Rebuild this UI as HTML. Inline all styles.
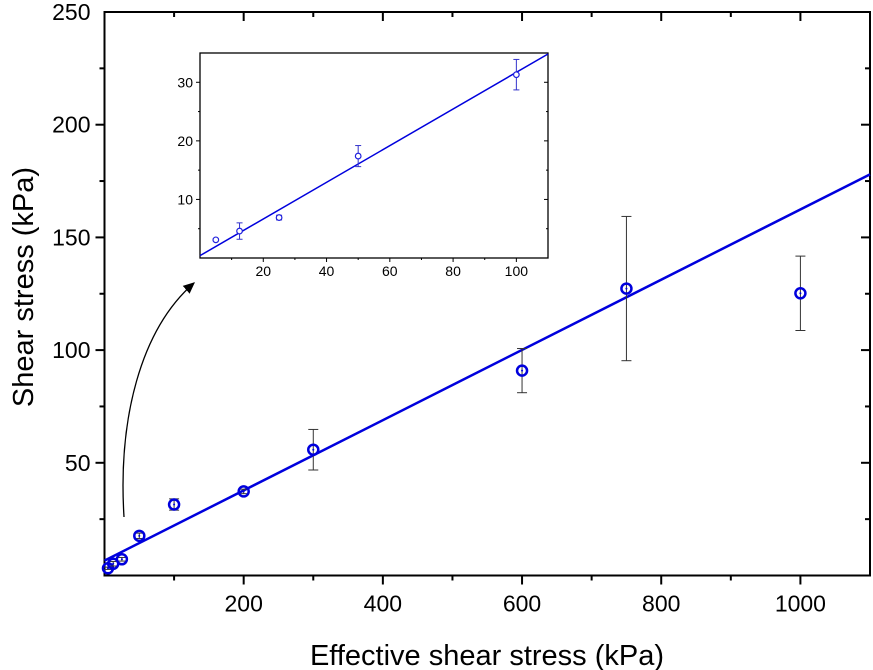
<!DOCTYPE html>
<html><head><meta charset="utf-8"><style>
html,body{margin:0;padding:0;background:#fff;}
svg{display:block;font-family:"Liberation Sans",Arial,sans-serif;}
</style></head><body>
<svg id="chart" width="873" height="670" viewBox="0 0 873 670" xmlns="http://www.w3.org/2000/svg">
<defs><marker id="ah" markerWidth="10" markerHeight="10" refX="8" refY="5" orient="auto"><path d="M0,1 L9,5 L0,9 Z" fill="#000"/></marker></defs>
<g id="main"></g>
<g id="inset"></g>
<path d="M124,517 C118,420 140,330 194,283" fill="none" stroke="#000" stroke-width="1.3" marker-end="url(#ah)"/>
<text x="487" y="665" font-size="29" text-anchor="middle">Effective shear stress (kPa)</text>
<text transform="translate(33,287) rotate(-90)" font-size="29" text-anchor="middle">Shear stress (kPa)</text>
</svg>
<script>
const xVals=[5,12.5,25,50,100,200,300,600,750,1000];
const yVals=[3.2,5.2,7.2,17.6,31.5,37.3,55.8,90.9,127.3,125.2];
const yErr=[0.5,1.0,0.8,1.2,2.5,1.0,9.0,9.8,32.0,16.5];
const xTicks=[200,400,600,800,1000];
const yTicks=[50,100,150,200,250];
const fitMain=[6.6,0.1558];
const insX=[5,12.5,25,50,100];
const insY=[3.1,4.6,6.9,17.4,31.3];
const insErr=[0.2,1.4,0.4,1.8,2.6];
const insXTicks=[20,40,60,80,100];
const insYTicks=[10,20,30];
const fitIns=[0.4,0.313];

const NS='http://www.w3.org/2000/svg';
function mk(p,t,a){const e=document.createElementNS(NS,t);for(const k in a)e.setAttribute(k,a[k]);p.appendChild(e);return e;}

const M=document.getElementById('main');
const L=104.5,R=870,T=12,B=575.5;
const sx=v=>L+(v-0)/1100*(R-L);
const sy=v=>B-(v-0)/250*(B-T);
let e;
e=mk(M,'rect',{x:L,y:T,width:R-L,height:B-T,fill:'none',stroke:'#000','stroke-width':2});

for(let v=100;v<1100;v+=100){const maj=xTicks.includes(v);const x=sx(v);
 mk(M,'line',{x1:x,x2:x,y1:B,y2:B+(maj?9:5),stroke:'#000','stroke-width':2});
 mk(M,'line',{x1:x,x2:x,y1:T,y2:T+(maj?9:5),stroke:'#000','stroke-width':2});
 if(maj){e=mk(M,'text',{x:x,y:B+36,'font-size':23,'text-anchor':'middle'});e.textContent=v;
 }}
for(let v=25;v<250;v+=25){const maj=yTicks.includes(v);const y=sy(v);
 mk(M,'line',{x1:L,x2:L-(maj?9:5),y1:y,y2:y,stroke:'#000','stroke-width':2});
 mk(M,'line',{x1:R,x2:R-(maj?9:5),y1:y,y2:y,stroke:'#000','stroke-width':2});}
yTicks.forEach(v=>{e=mk(M,'text',{x:L-14,y:sy(v)+8,'font-size':23,'text-anchor':'end'});e.textContent=v;
 });
e=mk(M,'line',{x1:sx(0),y1:sy(fitMain[0]),x2:sx(1100),y2:sy(fitMain[0]+fitMain[1]*1100),stroke:'#0000dd','stroke-width':2.5});

xVals.forEach((xv,i)=>{const x=sx(xv),y=sy(yVals[i]),t=sy(yVals[i]+yErr[i]),b=sy(yVals[i]-yErr[i]);
 e=mk(M,'g',{});
 mk(e,'line',{x1:x,x2:x,y1:t,y2:b,stroke:'#333','stroke-width':1});
 mk(e,'line',{x1:x-5,x2:x+5,y1:t,y2:t,stroke:'#333','stroke-width':1});
 mk(e,'line',{x1:x-5,x2:x+5,y1:b,y2:b,stroke:'#333','stroke-width':1});
 mk(e,'circle',{cx:x,cy:y,r:5,fill:'none',stroke:'#0000dd','stroke-width':2.5});
 mk(e,'circle',{cx:x,cy:y,r:1,fill:'#0000dd'});});

const I=document.getElementById('inset');
const iL=200,iR=548,iT=53,iB=258;
const ix=v=>iL+v/110*(iR-iL);
const iy=v=>iB-v/35*(iB-iT);
e=mk(I,'rect',{x:iL,y:iT,width:iR-iL,height:iB-iT,fill:'#fff',stroke:'#000','stroke-width':1.3});

for(let v=10;v<110;v+=10){const maj=insXTicks.includes(v);const x=ix(v);
 mk(I,'line',{x1:x,x2:x,y1:iB,y2:iB+(maj?4:2),stroke:'#000','stroke-width':1});
 if(maj){e=mk(I,'text',{x:x,y:iB+18,'font-size':14,'text-anchor':'middle'});e.textContent=v;
 }}
for(let v=5;v<35;v+=5){const maj=insYTicks.includes(v);const y=iy(v);
 mk(I,'line',{x1:iL,x2:iL-(maj?4:2),y1:y,y2:y,stroke:'#000','stroke-width':1});
 mk(I,'line',{x1:iR,x2:iR-(maj?4:2),y1:y,y2:y,stroke:'#000','stroke-width':1});}
insYTicks.forEach(v=>{e=mk(I,'text',{x:iL-7,y:iy(v)+5,'font-size':14,'text-anchor':'end'});e.textContent=v;
 });
e=mk(I,'line',{x1:ix(0),y1:iy(fitIns[0]),x2:ix(110),y2:iy(fitIns[0]+fitIns[1]*110),stroke:'#0000dd','stroke-width':1.5});

insX.forEach((xv,i)=>{const x=ix(xv),y=iy(insY[i]),t=iy(insY[i]+insErr[i]),b=iy(insY[i]-insErr[i]);
 e=mk(I,'g',{});
 mk(e,'line',{x1:x,x2:x,y1:t,y2:b,stroke:'#3333cc','stroke-width':1});
 mk(e,'line',{x1:x-3,x2:x+3,y1:t,y2:t,stroke:'#3333cc','stroke-width':1});
 mk(e,'line',{x1:x-3,x2:x+3,y1:b,y2:b,stroke:'#3333cc','stroke-width':1});
 mk(e,'circle',{cx:x,cy:y,r:2.8,fill:'#fff',stroke:'#2222dd','stroke-width':1.2});});
</script>
</body></html>
